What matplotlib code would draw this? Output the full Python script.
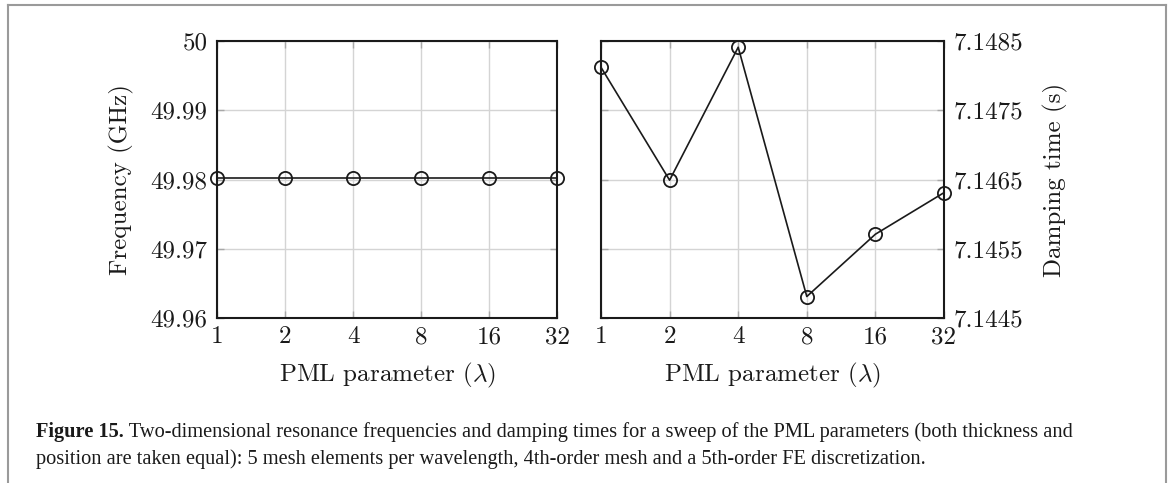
import matplotlib
matplotlib.use("Agg")
import matplotlib.pyplot as plt
from matplotlib.lines import Line2D
from matplotlib.ticker import FixedLocator, FixedFormatter, NullLocator

plt.rcParams["font.family"] = "cmr10"
plt.rcParams["mathtext.fontset"] = "cm"
plt.rcParams["axes.unicode_minus"] = False
plt.rcParams["axes.formatter.use_mathtext"] = True

# datos
pml = [1, 2, 4, 8, 16, 32]
x_labels = ["1", "2", "4", "8", "16", "32"]
freq_ghz = [49.98025, 49.98025, 49.98025, 49.98025, 49.98025, 49.98025]
damping_s = [7.14812, 7.14649, 7.14841, 7.14481, 7.14571, 7.14631]
freq_ticks = [49.96, 49.97, 49.98, 49.99, 50.0]
freq_tick_labels = ["49.96", "49.97", "49.98", "49.99", "50"]
damp_ticks = [7.1445, 7.1455, 7.1465, 7.1475, 7.1485]
damp_tick_labels = ["7.1445", "7.1455", "7.1465", "7.1475", "7.1485"]

caption_bold = "Figure 15."
caption_l1 = " Two-dimensional resonance frequencies and damping times for a sweep of the PML parameters (both thickness and"
caption_l2 = "position are taken equal): 5 mesh elements per wavelength, 4th-order mesh and a 5th-order FE discretization."

INK = "#1a1a1a"
GRIDC = "#d4d4d4"
TICKC = "#a8a8a8"
FS = 18
W, H = 1170, 483

fig = plt.figure(figsize=(11.7, 4.83), dpi=100)
ax1 = fig.add_axes([217 / W, 1 - 318 / H, 340 / W, 277 / H])
ax2 = fig.add_axes([601 / W, 1 - 318 / H, 343 / W, 277 / H])


def style(ax, yt, ytl, ylim):
    ax.set_xscale("log", base=2)
    ax.set_xlim(1, 32)
    ax.xaxis.set_major_locator(FixedLocator(pml))
    ax.xaxis.set_major_formatter(FixedFormatter(x_labels))
    ax.xaxis.set_minor_locator(NullLocator())
    ax.set_ylim(*ylim)
    ax.yaxis.set_major_locator(FixedLocator(yt))
    ax.yaxis.set_major_formatter(FixedFormatter(ytl))
    ax.grid(True, color=GRIDC, linewidth=1.0)
    ax.set_axisbelow(True)
    ax.tick_params(direction="in", length=5, width=1.0, color=TICKC,
                   labelsize=FS, labelcolor=INK, top=True, right=True, pad=7)
    ax.tick_params(axis="x", pad=6)
    for s in ax.spines.values():
        s.set_linewidth(1.5)
        s.set_color(INK)
    ax.set_xlabel(r"PML parameter ($\lambda$)", fontsize=FS, labelpad=9, color=INK)


style(ax1, freq_ticks, freq_tick_labels, (49.96, 50.0))
ax1.plot(pml, freq_ghz, color=INK, lw=1.2, marker="o", ms=9.5,
         mfc="none", mec=INK, mew=1.3, clip_on=False, zorder=5)
ax1.set_ylabel("Frequency (GHz)", fontsize=FS, labelpad=12, color=INK)

style(ax2, damp_ticks, damp_tick_labels, (7.1445, 7.1485))
ax2.tick_params(axis="y", labelleft=False, labelright=True)
ax2.yaxis.set_label_position("right")
ax2.plot(pml, damping_s, color=INK, lw=1.2, marker="o", ms=9.5,
         mfc="none", mec=INK, mew=1.3, clip_on=False, zorder=5)
ax2.set_ylabel("Damping time (s)", fontsize=FS, labelpad=14, color=INK)

# marco gris de la pagina
FR = "#9a9a9a"
fig.add_artist(Line2D([8 / W, 1166 / W], [1 - 5 / H, 1 - 5 / H], color=FR, lw=1.5))
fig.add_artist(Line2D([8 / W, 8 / W], [0, 1 - 5 / H], color=FR, lw=1.5))
fig.add_artist(Line2D([1166 / W, 1166 / W], [0, 1 - 5 / H], color=FR, lw=1.5))

# pie de figura
cap_font = dict(family="Liberation Serif", fontsize=14.7, color=INK, va="baseline")
t0 = fig.text(36 / W, 1 - 437 / H, caption_bold, fontweight="bold", **cap_font)
fig.canvas.draw()
bb = t0.get_window_extent()
fig.text(bb.x1 / W, 1 - 437 / H, caption_l1, **cap_font)
fig.text(36 / W, 1 - 464 / H, caption_l2, **cap_font)

fig.savefig("out.png", dpi=100)
